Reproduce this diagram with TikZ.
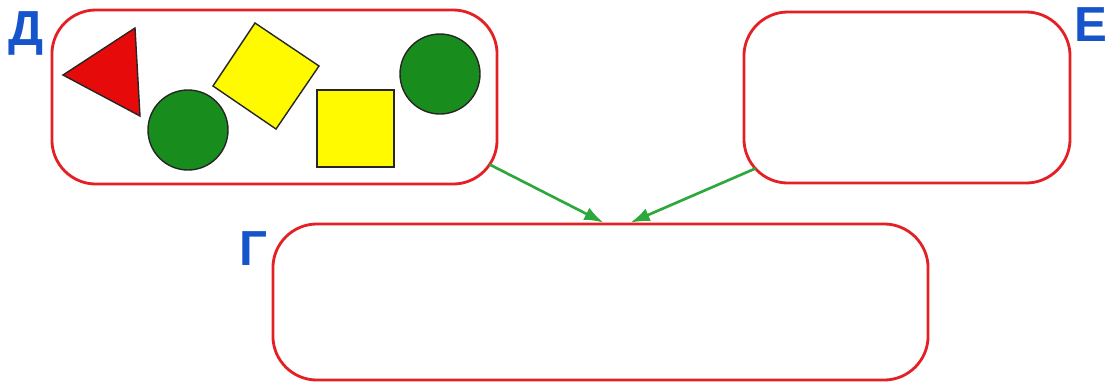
\documentclass[tikz,border=0pt]{standalone}
\usepackage{fontspec}
\setmainfont{Liberation Sans}
\usepackage{xcolor}
\usepackage{tikz}
\usetikzlibrary{arrows.meta, positioning, calc}
\definecolor{frame}{RGB}{228, 32, 36}
\definecolor{arrowgreen}{RGB}{44, 168, 60}
\definecolor{letterblue}{RGB}{22, 84, 204}
\definecolor{ballgreen}{RGB}{24, 140, 28}
\definecolor{cardyellow}{RGB}{255, 250, 0}
\definecolor{cardred}{RGB}{230, 10, 10}
\tikzset{
  setbox/.style={
    rectangle, rounded corners=1.1cm, draw=frame, fill=white,
    line width=2pt
  },
  letterlabel/.style={
    font=\fontsize{35}{35}\selectfont\bfseries, text=letterblue, inner sep=0pt
  },
  flowline/.style={
    draw=arrowgreen, -{Latex[length=0.48cm, width=0.34cm]}, line width=1.9pt
  },
  figure/.style={draw=black!85, line width=1pt}
}
\begin{document}
\begin{tikzpicture}[x=0.025cm, y=-0.025cm]
  \useasboundingbox (0,0) rectangle (1113,384);

  % the three sets
  \node[setbox, minimum width=11.125cm, minimum height=4.35cm] (boxD) at (274.5,97) {};
  \node[setbox, minimum width=8.15cm, minimum height=4.275cm] (boxE) at (907,97.5) {};
  \node[setbox, minimum width=16.375cm, minimum height=3.9cm] (boxG) at (600.5,302) {};

  \node[letterlabel, anchor=base east] (labD) at ($(boxD.north west)+(-7,37)$) {Д};
  \node[letterlabel, anchor=base west] (labE) at ($(boxE.north east)+(3,31)$) {Е};
  \node[letterlabel, anchor=base east] (labG) at ($(boxG.north west)+(-4,43)$) {Г};

  % figures in set D
  \filldraw[figure, fill=cardred] (63,75) -- (135,28) -- (140,116) -- cycle;
  \filldraw[figure, fill=ballgreen] (188,130) circle (40);
  \filldraw[figure, fill=cardyellow] (255,23) -- (319,66) -- (276,129) -- (213,86) -- cycle;
  \filldraw[figure, fill=cardyellow] (317,90) rectangle (394,167);
  \filldraw[figure, fill=ballgreen] (440,74) circle (40);

  \draw[flowline] ($(boxD.south east)+(-9,-21)$) -- ($(boxG.north)+(3,0)$);
  \draw[flowline] ($(boxE.south west)+(13,-16)$) -- ($(boxG.north)+(30,0)$);
\end{tikzpicture}
\end{document}
